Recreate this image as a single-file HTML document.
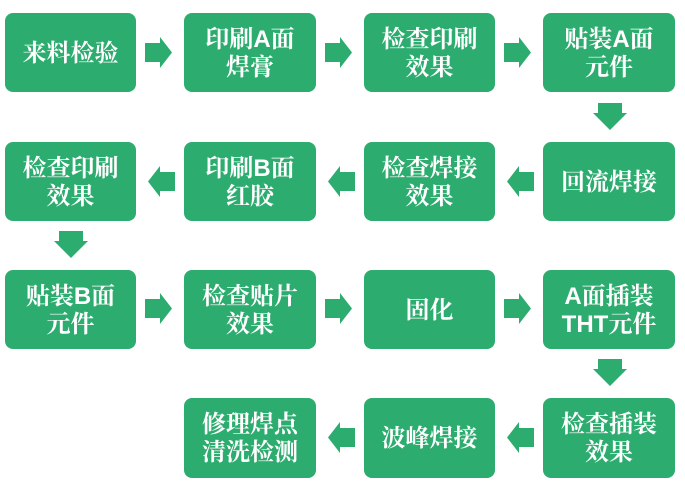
<!DOCTYPE html>
<html><head><meta charset="utf-8"><style>
html,body{margin:0;padding:0;background:#fff;}
svg text{font-family:"Liberation Sans","Noto Serif CJK SC",serif;font-weight:bold;font-size:24px;fill:#fff;text-anchor:middle;}
</style></head><body>
<svg width="685" height="485" viewBox="0 0 685 485" xmlns="http://www.w3.org/2000/svg">
<g fill="#2dac6f">
<rect x="5" y="13" width="131" height="79" rx="8"/>
<rect x="184" y="13" width="132" height="79" rx="8"/>
<rect x="364" y="13" width="131" height="79" rx="8"/>
<rect x="543" y="13" width="132" height="79" rx="8"/>
<rect x="5" y="142" width="131" height="79" rx="8"/>
<rect x="184" y="142" width="132" height="79" rx="8"/>
<rect x="364" y="142" width="131" height="79" rx="8"/>
<rect x="543" y="142" width="132" height="79" rx="8"/>
<rect x="5" y="270" width="131" height="79" rx="8"/>
<rect x="184" y="270" width="132" height="79" rx="8"/>
<rect x="364" y="270" width="131" height="79" rx="8"/>
<rect x="543" y="270" width="132" height="79" rx="8"/>
<rect x="184" y="398" width="132" height="80" rx="8"/>
<rect x="364" y="398" width="131" height="80" rx="8"/>
<rect x="543" y="398" width="132" height="80" rx="8"/>
<!-- right arrows -->
<path id="ra" d="M145 43H160V37L172 52.5L160 68V62H145Z"/>
<path d="M325 43H340V37L352 52.5L340 68V62H325Z"/>
<path d="M504 43H519V37L531 52.5L519 68V62H504Z"/>
<path d="M145 299H160V293L172 308.5L160 324V318H145Z"/>
<path d="M325 299H340V293L352 308.5L340 324V318H325Z"/>
<path d="M504 299H519V293L531 308.5L519 324V318H504Z"/>
<!-- left arrows -->
<path d="M534 172H519V166L507 181.5L519 197V191H534Z"/>
<path d="M355 172H340V166L328 181.5L340 197V191H355Z"/>
<path d="M175 172H160V166L148 181.5L160 197V191H175Z"/>
<path d="M534 428H519V422L507 437.5L519 453V447H534Z"/>
<path d="M355 428H340V422L328 437.5L340 453V447H355Z"/>
<!-- down arrows -->
<path d="M598 103H622V113H627L610 130L593 113H598Z"/>
<path d="M59 231H83V241H88L71 258L54 241H59Z"/>
<path d="M598 359H622V369H627L610 386L593 369H598Z"/>
</g>
<text x="70.5" y="61">来料检验</text>
<text x="250" y="47">印刷A面</text><text x="250" y="75">焊膏</text>
<text x="429.5" y="47">检查印刷</text><text x="429.5" y="75">效果</text>
<text x="609" y="47">贴装A面</text><text x="609" y="75">元件</text>
<text x="70.5" y="176">检查印刷</text><text x="70.5" y="204">效果</text>
<text x="250" y="176">印刷B面</text><text x="250" y="204">红胶</text>
<text x="429.5" y="176">检查焊接</text><text x="429.5" y="204">效果</text>
<text x="609" y="190">回流焊接</text>
<text x="70.5" y="304">贴装B面</text><text x="70.5" y="332">元件</text>
<text x="250" y="304">检查贴片</text><text x="250" y="332">效果</text>
<text x="429.5" y="318">固化</text>
<text x="609" y="304">A面插装</text><text x="609" y="332">THT元件</text>
<text x="250" y="432">修理焊点</text><text x="250" y="460">清洗检测</text>
<text x="429.5" y="446">波峰焊接</text>
<text x="609" y="432">检查插装</text><text x="609" y="460">效果</text>
</svg>
</body></html>
